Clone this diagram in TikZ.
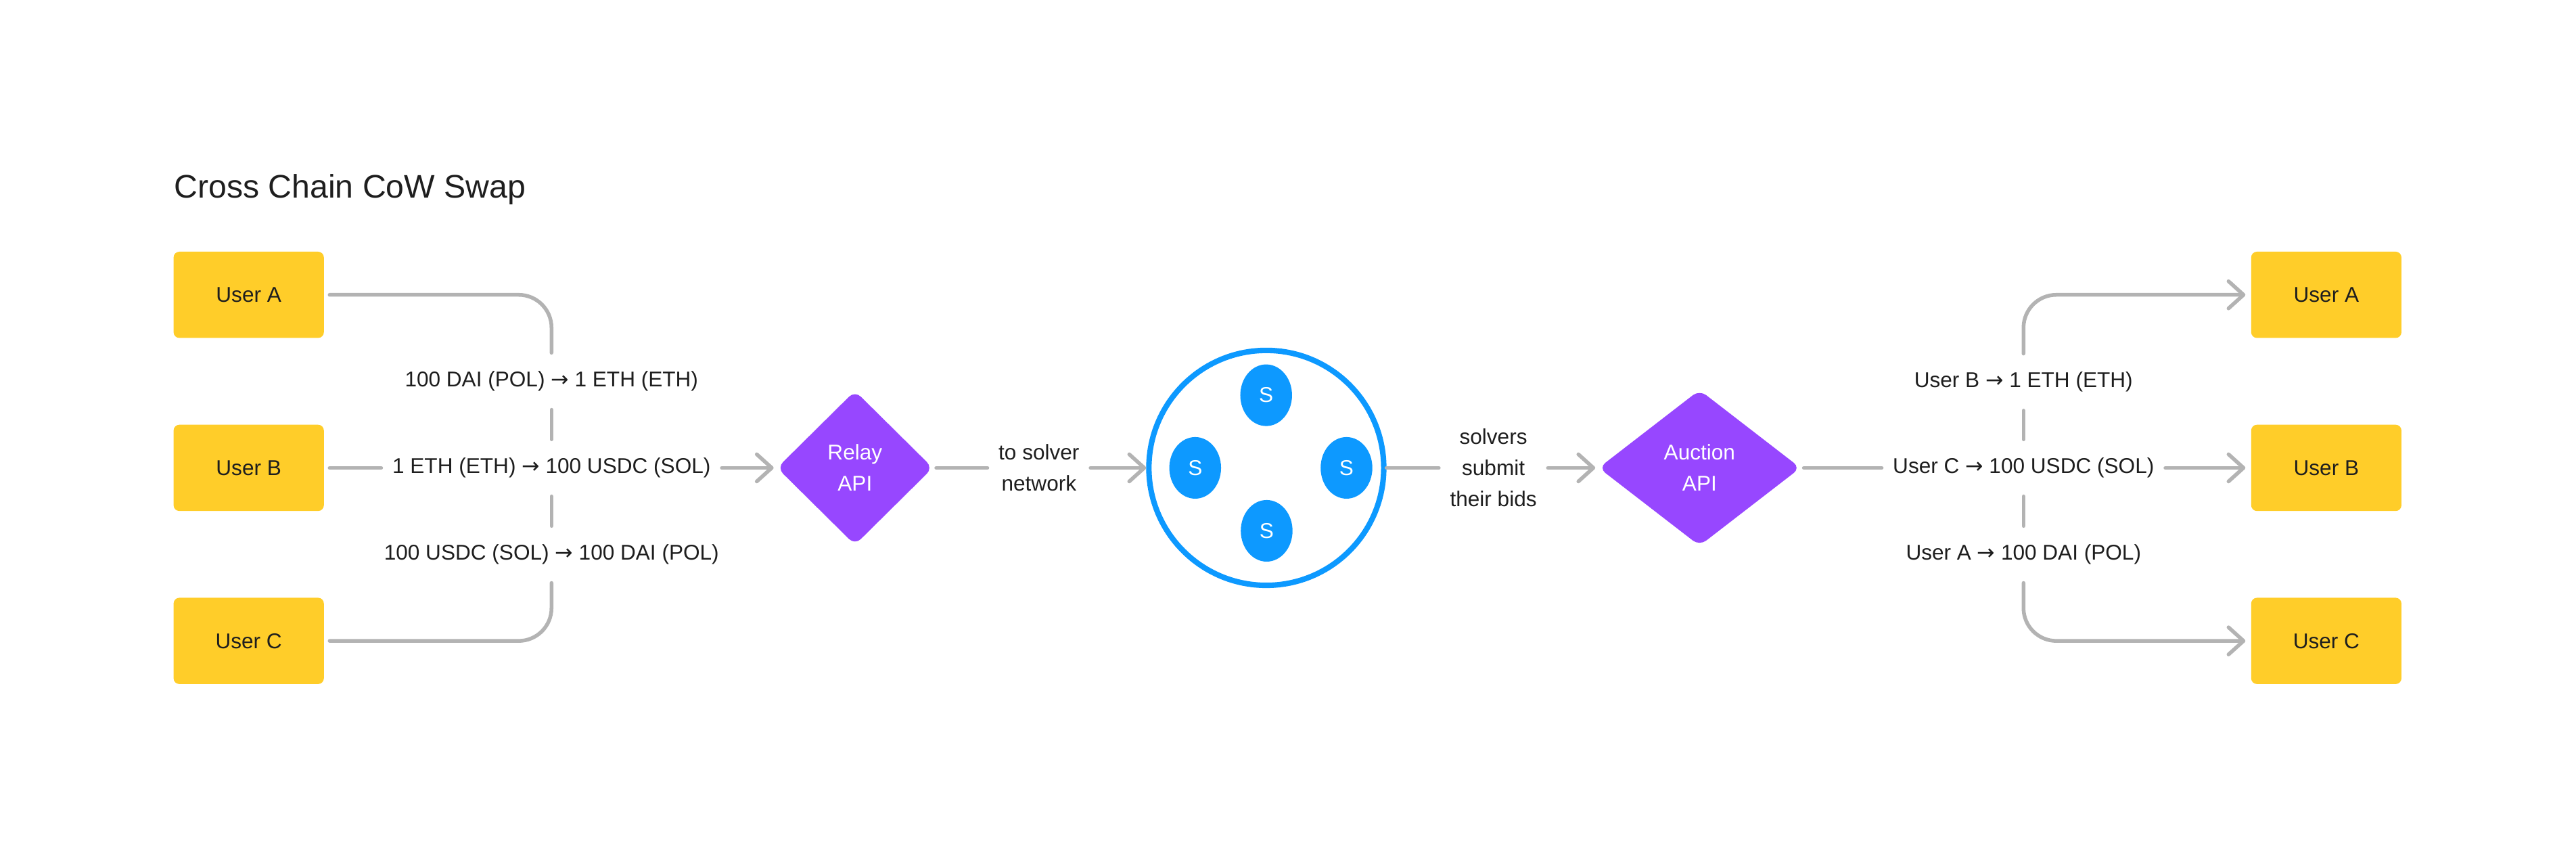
\documentclass[tikz,border=0pt]{standalone}
\usepackage{fontspec}
\setmainfont{Liberation Sans}
\newfontfamily\arrowfont{DejaVu Sans}
\usetikzlibrary{arrows.meta}
\usetikzlibrary{shapes.geometric}
\definecolor{useryellow}{HTML}{FFCD29}
\definecolor{apipurple}{HTML}{9747FF}
\definecolor{solverblue}{HTML}{0D99FF}
\definecolor{flowgray}{HTML}{B3B3B3}
\definecolor{ink}{HTML}{1E1E1E}
\newcommand{\swapto}{{\arrowfont →}}

\begin{document}
\begin{tikzpicture}[x=0.02cm,y=-0.02cm,>={Straight Barb[length=5.2pt,width=9.4pt,round]},
font=\fontsize{7.4}{10.8}\selectfont,
user/.style={fill=useryellow,rounded corners=2pt,minimum width=1.83cm,minimum height=1.05cm,outer sep=0.07cm,text=ink},
api/.style={diamond,fill=apipurple,rounded corners=0.1cm,text=white,align=center,inner sep=0pt,outer sep=0.03cm},
swap label/.style={inner xsep=0.13cm,inner ysep=0pt,minimum height=0.68cm,text=ink,align=center},
flow/.style={flowgray,line width=1.3pt,line cap=round,line join=round,rounded corners=0.4cm},
solver/.style={ellipse,fill=solverblue,text=white,minimum width=0.63cm,minimum height=0.75cm,inner sep=0pt}]
\useasboundingbox (0,0) rectangle (1568,522);
% The title
\node[anchor=base west,text=ink,font=\fontsize{11.3}{13}\selectfont,inner sep=0pt] (title) at (105.7,120.6) {Cross Chain CoW Swap};
% The users, sending and receiving
\foreach \u/\y in {A/179.4,B/284.7,C/390}
{
  \node[user] (user\u) at (151.4,\y) {User \u};
  \node[user] (out\u) at (1416,\y) {User \u};
}
% The swaps
\node[swap label] (swapA) at (335.7,232) {100 DAI (POL) \swapto{} 1 ETH (ETH)};
\node[swap label] (swapB) at (335.7,284.7) {1 ETH (ETH) \swapto{} 100 USDC (SOL)};
\node[swap label] (swapC) at (335.7,337.4) {100 USDC (SOL) \swapto{} 100 DAI (POL)};
% The relay, solvers and auction
\node[api,minimum width=1.92cm,minimum height=1.9cm] (relay) at (520.4,284.7) {Relay\\API};
\node[swap label] (tosolver) at (632.4,284.7) {to solver\\network};
\node[circle,draw=solverblue,line width=1.9pt,minimum size=2.86cm] (network) at (770.8,284.7) {};
\foreach \n/\x/\y in {1/770.7/240.5,2/727.5/284.7,3/819.6/284.7,4/771/323}
  \node[solver] (s\n) at (\x,\y) {S};
\node[swap label] (bids) at (909,284.7) {solvers\\submit\\their bids};
\node[api,minimum width=2.48cm,minimum height=1.92cm] (auction) at (1034.5,284.7) {Auction\\API};
% The payouts
\node[swap label] (payB) at (1231.7,232.5) {User B \swapto{} 1 ETH (ETH)};
\node[swap label] (payC) at (1231.7,284.7) {User C \swapto{} 100 USDC (SOL)};
\node[swap label] (payA) at (1231.7,337.4) {User A \swapto{} 100 DAI (POL)};

% Flows into the relay
\draw[flow] (userA.east) -| (swapA.north);
\draw[flow] (swapA.south) -- (swapB.north);
\draw[flow] (userC.east) -| (swapC.south);
\draw[flow] (swapC.north) -- (swapB.south);
\draw[flow] (userB.east) -- (swapB.west);
\draw[flow,->] (swapB.east) -- (relay.west);
% Through the solver network
\draw[flow] (relay.east) -- (tosolver.west);
\draw[flow,->] (tosolver.east) -- (network.west);
\draw[flow] (network.east) -- (bids.west);
\draw[flow,->] (bids.east) -- (auction.west);
% Flows out of the auction
\draw[flow] (auction.east) -- (payC.west);
\draw[flow,->] (payC.east) -- (outB.west);
\draw[flow,->] (payB.north) |- (outA.west);
\draw[flow] (payC.north) -- (payB.south);
\draw[flow,->] (payA.south) |- (outC.west);
\draw[flow] (payC.south) -- (payA.north);
\end{tikzpicture}
\end{document}
